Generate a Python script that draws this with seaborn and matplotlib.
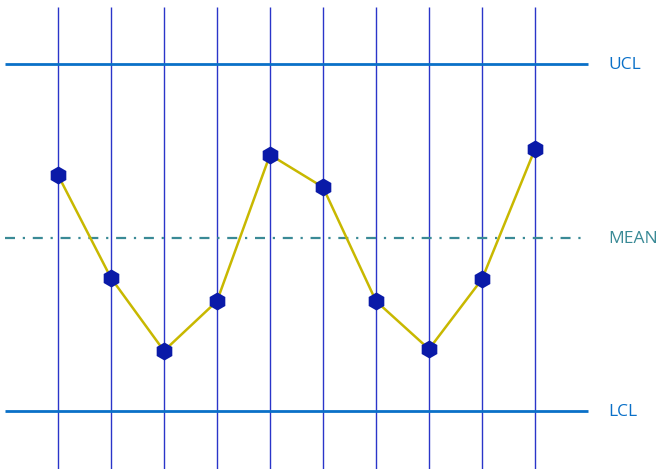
import matplotlib
matplotlib.use("Agg")
import matplotlib.pyplot as plt
import seaborn as sns
import pandas as pd

samples = [1, 2, 3, 4, 5, 6, 7, 8, 9, 10]
values = [1.08, -0.70, -1.96, -1.10, 1.43, 0.87, -1.10, -1.93, -0.72, 1.53]
ucl = 3.0
mean = 0.0
lcl = -3.0
limit_labels = ["UCL", "MEAN", "LCL"]

sns.set_theme(style="white")
plt.rcParams['font.family'] = ['Open Sans', 'DejaVu Sans']

df = pd.DataFrame({"sample": samples, "value": values})

fig = plt.figure(figsize=(6.62, 4.69), dpi=100)
ax = fig.add_axes([0, 0, 1, 1])
ax.set_xlim(-0.094, 12.396)
ax.set_ylim(-4.003, 4.107)
ax.axis("off")

ax.vlines(samples, -4.1, 3.99, colors="#2a35c9", linewidth=1.0, zorder=1)

ax.hlines([ucl, lcl], 0.0, 11.0, colors="#0a70c8", linewidth=2.0, zorder=2)
ax.hlines([mean], 0.0, 11.0, colors="#3a8a96", linewidth=1.6,
          linestyles=[(0, (4.5, 3.5, 1, 3.5))], zorder=2)

sns.lineplot(data=df, x="sample", y="value", ax=ax, color="#c8b800",
             linewidth=1.8, zorder=3)
ax.plot(df["sample"], df["value"], linestyle="none", marker="h",
        markersize=13, color="#0a1aa8", markeredgewidth=0, zorder=4)

colors = ["#0a70c8", "#3a8a96", "#0a70c8"]
for lab, yv, c in zip(limit_labels, [ucl, mean, lcl], colors):
    ax.text(11.38, yv - 0.02, lab, color=c, fontsize=12.5, va="center", ha="left")

fig.savefig("out.png", dpi=100)
